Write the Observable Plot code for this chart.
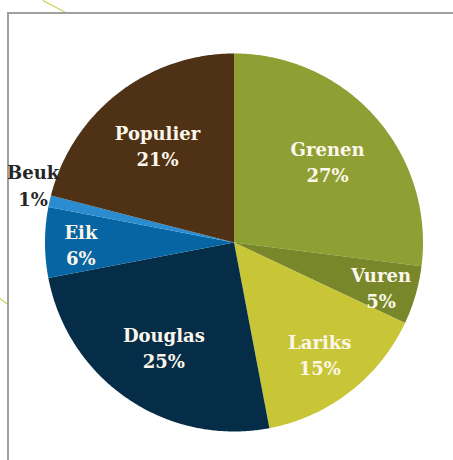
<!DOCTYPE html>
<html><head><meta charset="utf-8">
<script src="https://cdn.jsdelivr.net/npm/d3@7"></script>
<script src="https://cdn.jsdelivr.net/npm/@observablehq/plot@0.6"></script>
<style>
body{margin:0;background:#fff;}
#wrap{position:relative;width:453px;height:460px;overflow:hidden;}
#wrap svg{position:absolute;left:0;top:0;}
.frame{position:absolute;left:7px;top:12px;width:460px;height:460px;border-left:2px solid #a0a0a0;border-top:2px solid #a0a0a0;}
.deco{position:absolute;height:1px;background:#c9c83a;transform-origin:0 0;}
</style></head>
<body>
<div id="wrap">
  <div class="deco" style="left:43px;top:0;width:29px;transform:rotate(27.5deg)"></div>
  <div class="deco" style="left:0;top:298px;width:10px;transform:rotate(37deg)"></div>
  <div class="frame"></div>
</div>
<script>
const species = ["Grenen","Vuren","Lariks","Douglas","Eik","Beuk","Populier"];
const shares = [27,5,15,25,6,1,21];
const colors = ["#8e9f33","#77872a","#c8c536","#062d47","#0765a3","#2b8ccf","#4f3215"];

// geometry (pie in unit-radius data space)
const total = d3.sum(shares);
let cum = 0;
const slices = species.map((name,i)=>{
  const a0 = cum/total*2*Math.PI; cum += shares[i];
  const a1 = cum/total*2*Math.PI;
  return {name, share: shares[i], a0, a1};
});
const pts = [];
for (const s of slices) {
  pts.push({name:s.name, x:0, y:0});
  const n = Math.max(4, Math.ceil((s.a1-s.a0)/(Math.PI/360)));
  for (let k=0;k<=n;k++){
    const a = s.a0 + (s.a1-s.a0)*k/n;
    pts.push({name:s.name, x:Math.sin(a), y:Math.cos(a)});
  }
}
const labels = slices.map(s=>{
  const m = (s.a0+s.a1)/2;
  const r = s.share<3 ? 1.1 : s.share<10 ? 0.81 : s.share<20 ? 0.74 : 0.66;
  return {name:s.name, share:s.share, outside: r>1, x:r*Math.sin(m), y:r*Math.cos(m)};
});

const W=453, H=460, cx=233.5, cy=242, R=189;
const chart = Plot.plot({
  width:W, height:H, margin:0,
  x:{domain:[-cx/R,(W-cx)/R], axis:null},
  y:{domain:[-(H-cy)/R, cy/R], axis:null},
  color:{domain:species, range:colors},
  style:{fontFamily:"'DejaVu Serif', serif", background:"transparent"},
  marks:[
    Plot.line(pts,{x:"x", y:"y", z:"name", fill:"name", stroke:null, curve:"linear"}),
    Plot.text(labels.filter(d=>!d.outside),{x:"x", y:"y", dy:1, text:d=>`${d.name}\n${d.share}%`, fill:"#fcf7ea", fontSize:18, fontWeight:"bold", lineHeight:1.45}),
    Plot.text(labels.filter(d=>d.outside),{x:"x", y:"y", dy:-13, dx:2, text:d=>`${d.name}\n${d.share}%`, fill:"#262626", fontSize:18, fontWeight:"bold", lineHeight:1.45})
  ]
});
document.getElementById("wrap").appendChild(chart);
</script>
</body></html>
